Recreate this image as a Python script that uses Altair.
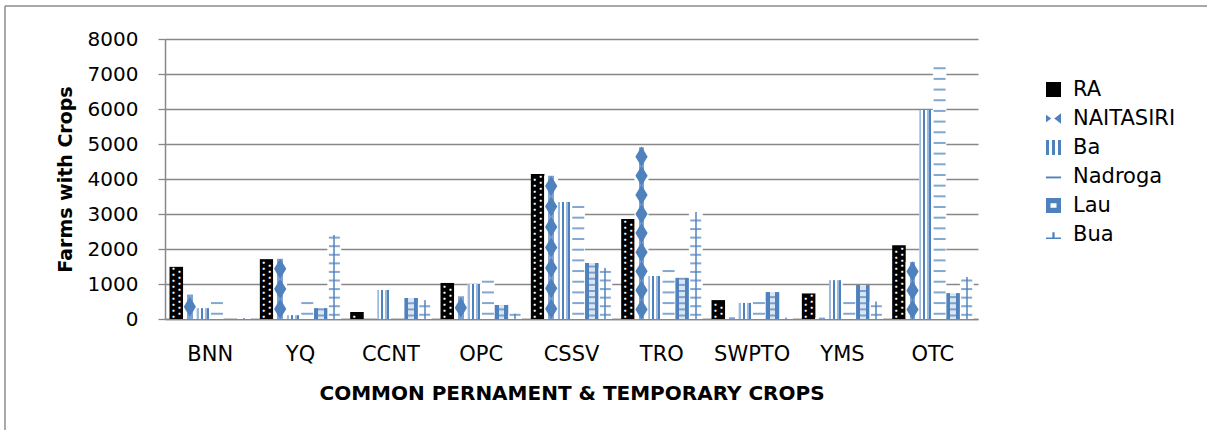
import altair as alt
import pandas as pd

crops = ["BNN", "YQ", "CCNT", "OPC", "CSSV", "TRO", "SWPTO", "YMS", "OTC"]
regions = ["RA", "NAITASIRI", "Ba", "Nadroga", "Lau", "Bua"]
ra = [1490, 1710, 200, 1030, 4140, 2860, 540, 730, 2110]
naitasiri = [700, 1720, 0, 650, 4090, 4910, 50, 40, 1630]
ba = [310, 110, 830, 1000, 3340, 1230, 460, 1110, 5970]
nadroga = [490, 600, 0, 1170, 3340, 1460, 540, 490, 7310]
lau = [0, 310, 600, 400, 1600, 1170, 770, 970, 740]
bua = [30, 2400, 540, 150, 1460, 3060, 40, 500, 1200]
y_ticks = [0, 1000, 2000, 3000, 4000, 5000, 6000, 7000, 8000]

series = {"RA": ra, "NAITASIRI": naitasiri, "Ba": ba, "Nadroga": nadroga, "Lau": lau, "Bua": bua}
rows = []
for reg in regions:
    for c, v in zip(crops, series[reg]):
        rows.append({"crop": c, "region": reg, "value": v})
df = pd.DataFrame(rows)

BLUE = "#4F81BD"
LIGHT = "#9DB9DE"
GRID = "#878787"
FONT = "DejaVu Sans"


def hard(bands):
    stops = []
    for a, b, col in bands:
        stops.append(alt.GradientStop(color=col, offset=a))
        stops.append(alt.GradientStop(color=col, offset=b))
    return alt.LinearGradient(gradient="linear", stops=stops, x1=0, x2=1, y1=0, y2=0)


ba_fill = hard([(0, 0.15, LIGHT), (0.15, 0.3, "#FFFFFF"), (0.3, 0.45, BLUE), (0.45, 0.6, "#FFFFFF"),
                (0.6, 0.75, LIGHT), (0.75, 0.9, BLUE), (0.9, 1, "#FFFFFF")])
lau_fill = hard([(0, 0.3, BLUE), (0.3, 0.7, "#DCE6F2"), (0.7, 1, BLUE)])
bua_fill = hard([(0, 0.42, "#FFFFFF"), (0.42, 0.58, "#7FA3D0"), (0.58, 1, "#FFFFFF")])
nai_fill = hard([(0, 0.3, "#FFFFFF"), (0.3, 0.7, "#7FA3D0"), (0.7, 1, "#FFFFFF")])

yscale = alt.Scale(domain=[0, 8000], nice=False)
xenc = alt.X(
    "crop:N", sort=crops,
    scale=alt.Scale(domain=crops, paddingInner=0.1, paddingOuter=0.05),
    axis=alt.Axis(title="COMMON PERNAMENT & TEMPORARY CROPS", labelAngle=0, ticks=False,
                  labelPadding=24, labelFontSize=21, labelFont=FONT, labelColor="#000000",
                  domainColor=GRID, domainWidth=1.5, titleFont=FONT, titleFontSize=20,
                  titleFontWeight="bold", titleColor="#000000", titleY=74, titleBaseline="middle"),
)
xoff = alt.XOffset("region:N", scale=alt.Scale(domain=regions, paddingInner=0, paddingOuter=0))
yaxis = alt.Axis(title="Farms with Crops", values=y_ticks, format="d", grid=True, gridColor=GRID,
                 gridWidth=1.3, domainColor=GRID, domainWidth=1.5, tickColor=GRID, tickSize=7,
                 tickWidth=1.3, labelPadding=20, labelFontSize=20, labelFont=FONT,
                 labelColor="#000000", titleFont=FONT, titleFontSize=19, titleFontWeight="bold",
                 titleColor="#000000", titleAngle=270, titleX=-100, titleY=140,
                 titleAlign="center", titleBaseline="middle")
yenc = alt.Y("value:Q", scale=yscale, axis=yaxis)
ylv = alt.Y("lv:Q", scale=yscale, axis=yaxis)

base = alt.Chart(df).encode(x=xenc, xOffset=xoff)


def only(reg):
    return base.transform_filter(alt.datum.region == reg)


def levels(reg, start, step, top_gap):
    return only(reg).transform_calculate(
        lv=f"sequence({start}, datum.value - {top_gap}, {step})"
    ).transform_flatten(["lv"])


ra_bar = only("RA").mark_bar(color="#000000").encode(y=yenc)
white_bar = base.transform_filter(alt.datum.region != "RA").mark_bar(color="#FFFFFF").encode(y=yenc)
nai_bar = only("NAITASIRI").mark_bar(fill=nai_fill).encode(y=yenc)
ba_bar = only("Ba").mark_bar(fill=ba_fill).encode(y=yenc)
lau_bar = only("Lau").mark_bar(fill=lau_fill).encode(y=yenc)
bua_bar = only("Bua").mark_bar(fill=bua_fill).encode(y=yenc)

ra_dots1 = levels("RA", 85, 170, 40).mark_text(text="●", color="#FFFFFF", fontSize=5, dx=-3,
                                                baseline="middle").encode(y=ylv)
ra_dots2 = levels("RA", 170, 170, 40).mark_text(text="●", color="#FFFFFF", fontSize=5, dx=3,
                                                 baseline="middle").encode(y=ylv)
# diamonds evenly spread over each NAITASIRI bar
nai_dia = only("NAITASIRI").transform_filter(alt.datum.value >= 300).transform_calculate(
    n="max(1, round(datum.value / 570))"
).transform_calculate(
    k="sequence(0, datum.n)"
).transform_flatten(["k"]).transform_calculate(
    lv="(datum.k + 0.5) * datum.value / datum.n"
).mark_point(
    shape="M-1,0L0,-1.65L1,0L0,1.65Z", filled=True, color=BLUE, size=150, opacity=1, strokeWidth=0
).encode(y=ylv)
nad_ticks = levels("Nadroga", 150, 305, 0).mark_tick(color=BLUE, thickness=2, size=12,
                                                      orient="horizontal").encode(y=ylv)
lau_ticks = levels("Lau", 100, 175, 0).mark_tick(color=BLUE, thickness=2, size=12,
                                                  orient="horizontal").encode(y=ylv)
bua_ticks = levels("Bua", 120, 245, 0).mark_tick(color=BLUE, thickness=2, size=11,
                                                  orient="horizontal").encode(y=ylv)

shapes = [
    "M-1,-1H1V1H-1Z",
    "M-1,-0.5L-0.3,0L-1,0.5Z M1,-0.7L0.1,0L1,0.7Z",
    "M-1,-1H-0.6V1H-1Z M-0.2,-1H0.2V1H-0.2Z M0.6,-1H1V1H0.6Z",
    "M-1,0H1V0.25H-1Z",
    "M-1,-1H1V1H-1Z M-0.4,-0.3V0.3H0.4V-0.3Z",
    "M-0.15,-0.3H0.15V0.4H-0.15Z M-1,0.4H1V0.6H-1Z",
]
colors = ["#000000", BLUE, BLUE, BLUE, BLUE, BLUE]
leg = alt.Legend(title=None, orient="none", legendX=878, legendY=40, labelFont=FONT,
                 labelFontSize=21, labelColor="#000000", labelOffset=9, rowPadding=7,
                 symbolSize=225, symbolStrokeWidth=0, padding=0)
legend_layer = base.transform_filter(alt.datum.value < 0).mark_point(filled=True, opacity=1).encode(
    y=yenc,
    color=alt.Color("region:N", scale=alt.Scale(domain=regions, range=colors), legend=leg),
    shape=alt.Shape("region:N", scale=alt.Scale(domain=regions, range=shapes), legend=leg),
)

frame = alt.Chart(alt.Data(values=[{"a": 1}]))
frame_left = frame.mark_rule(color="#8C8C8C", strokeWidth=1.5).encode(
    x=alt.value(-160), y=alt.value(-33), y2=alt.value(400))
frame_top = frame.mark_rule(color="#8C8C8C", strokeWidth=1.5).encode(
    x=alt.value(-160), x2=alt.value(1050), y=alt.value(-33))

chart = alt.layer(
    ra_bar, white_bar, nai_bar, ba_bar, lau_bar, bua_bar, ra_dots1, ra_dots2, nai_dia, nad_ticks,
    lau_ticks, bua_ticks, legend_layer, frame_left, frame_top
).properties(
    width=813, height=280,
    padding={"left": 165, "top": 39, "right": 229, "bottom": 111},
    autosize=alt.AutoSizeParams(type="none"),
    background="#FFFFFF",
).configure_view(stroke=None)

chart.save("out.html", embed_options={"renderer": "svg", "actions": False})
